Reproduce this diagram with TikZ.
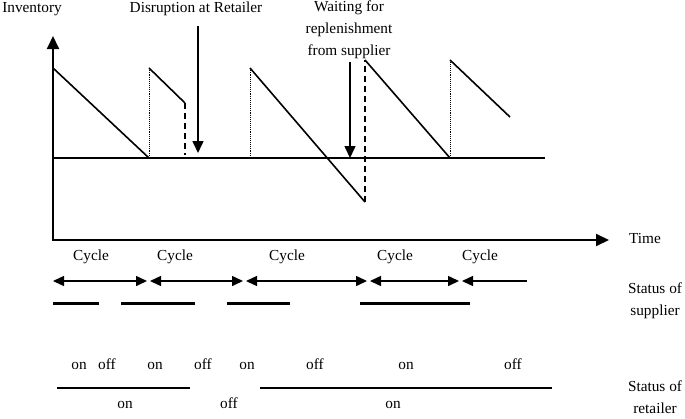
\documentclass[tikz,border=0pt]{standalone}
\usepackage{fontspec}
\setmainfont{Liberation Serif}
\usetikzlibrary{arrows.meta, positioning}
\tikzset{
    lbl/.style={font=\fontsize{15.3}{22}\selectfont, inner sep=0pt, align=center},
    word/.style={lbl, text height=10.5pt, text depth=3.5pt},
    axis/.style={line width=1.9pt, {Triangle[length=13pt,width=12pt]}-{Triangle[length=13pt,width=12pt]}},
    invline/.style={line width=1.6pt},
    guide/.style={densely dotted, line width=0.9pt},
    drop/.style={dash pattern=on 6pt off 4pt, line width=1.6pt},
    pointer/.style={line width=1.6pt, -{Triangle[length=12pt,width=11pt]}},
    cycspan/.style={line width=1.5pt, {Triangle[length=11pt,width=10pt]}-{Triangle[length=11pt,width=10pt]}},
    cychalf/.style={line width=1.5pt, {Triangle[length=11pt,width=10pt]}-},
    supbar/.style={line width=3pt},
    retline/.style={line width=1.4pt}
}

\begin{document}
\begin{tikzpicture}[x=1pt, y=-1pt]
    \useasboundingbox (0,0) rectangle (685,418);

    % axes
    \coordinate (ytop) at (53,36);
    \coordinate (xend) at (609,240);
    \draw[axis] (ytop) |- (xend);
    \node[word] (inv) at (32,9) {Inventory};
    \node[word] (time) at (645,240) {Time};

    % zero level
    \coordinate (z0) at (53,158);
    \coordinate (z1) at (545,158);
    \draw[invline] (z0) -- (z1);

    % inventory cycles
    \coordinate (a1) at (53,68);  \coordinate (a2) at (149,158);
    \coordinate (b1) at (149,68); \coordinate (b2) at (185,103); \coordinate (b3) at (185,155);
    \coordinate (c0) at (250,158); \coordinate (c1) at (250,68); \coordinate (c2) at (365,202);
    \coordinate (d1) at (365,60); \coordinate (d2) at (450,158);
    \coordinate (e1) at (450,60); \coordinate (e2) at (510,117);

    \draw[invline] (a1) -- (a2);
    \draw[guide] (a2) -- (b1);
    \draw[invline] (b1) -- (b2);
    \draw[drop] (b2) -- (b3);
    \draw[guide] (c0) -- (c1);
    \draw[invline] (c1) -- (c2);
    \draw[drop] (c2) -- (d1);
    \draw[invline] (d1) -- (d2);
    \draw[guide] (d2) -- (e1);
    \draw[invline] (e1) -- (e2);

    % events
    \node[word] (disr) at (196,9) {Disruption at Retailer};
    \coordinate (disrtail) at (198,26);
    \coordinate (disrtip) at (198,153);
    \draw[pointer] (disrtail) -- (disrtip);

    \node[lbl] (wait) at (349,30) {Waiting for\\replenishment\\from supplier};
    \coordinate (waittail) at (350,62);
    \coordinate (waittip) at (350,158);
    \draw[pointer] (waittail) -- (waittip);

    % cycles
    \foreach \a/\b/\n in {53/147/1, 150/243/2, 246/367/3, 370/459/4}{
        \coordinate (cl\n) at (\a,281);
        \coordinate (cr\n) at (\b,281);
        \draw[cycspan] (cl\n) -- (cr\n);
    }
    \coordinate (cl5) at (462,281);
    \coordinate (cr5) at (527,281);
    \draw[cychalf] (cl5) -- (cr5);
    \foreach \x/\n in {91/1, 175/2, 287/3, 395/4, 480/5}
        \node[word] (cyc\n) at (\x,257) {Cycle};

    % supplier status
    \foreach \a/\b/\n in {53/99/1, 121/195/2, 227/290/3, 360/470/4}{
        \coordinate (sl\n) at (\a,303);
        \coordinate (sr\n) at (\b,303);
        \draw[supbar] (sl\n) -- (sr\n);
    }
    \node[lbl] (supst) at (655,301) {Status of\\supplier};

    \foreach \x/\t/\n in {79/on/1, 107/off/2, 155/on/3, 203/off/4, 247/on/5, 315/off/6, 406/on/7, 513/off/8}
        \node[word] (so\n) at (\x,366) {\t};

    % retailer status
    \coordinate (rl1) at (57,388);  \coordinate (rr1) at (190,388);
    \coordinate (rl2) at (260,388); \coordinate (rr2) at (552,388);
    \draw[retline] (rl1) -- (rr1);
    \draw[retline] (rl2) -- (rr2);
    \foreach \x/\t/\n in {125/on/1, 229/off/2, 393/on/3}
        \node[word] (ro\n) at (\x,405) {\t};
    \node[lbl] (retst) at (655,397) {Status of\\retailer};
\end{tikzpicture}
\end{document}
